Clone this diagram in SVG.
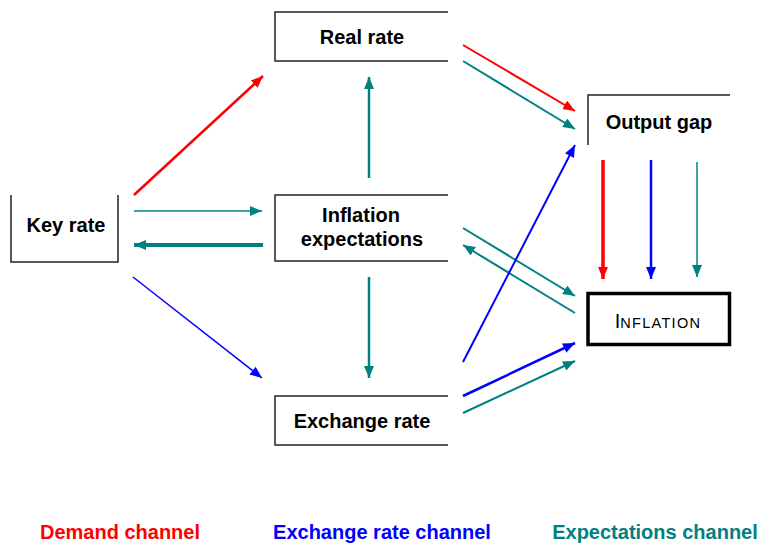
<svg xmlns="http://www.w3.org/2000/svg" width="764" height="544" viewBox="0 0 764 544">
<style>
.box{fill:none;stroke:#222;stroke-width:1.5}
.lbl{font-family:"Liberation Sans",Arial,sans-serif;font-size:20px;font-weight:bold;fill:#000;text-anchor:middle}
.leg{font-family:"Liberation Sans",Arial,sans-serif;font-size:20px;font-weight:bold;text-anchor:middle}
.r{stroke:#ff0000;fill:none}
.b{stroke:#0000ff;fill:none}
.t{stroke:#008080;fill:none}
</style>
<defs>
<marker id="mr" markerUnits="userSpaceOnUse" markerWidth="12" markerHeight="10" refX="12" refY="5" orient="auto"><path d="M0,0 L12,5 L0,10 z" fill="#ff0000"/></marker>
<marker id="mb" markerUnits="userSpaceOnUse" markerWidth="12" markerHeight="10" refX="12" refY="5" orient="auto"><path d="M0,0 L12,5 L0,10 z" fill="#0000ff"/></marker>
<marker id="mt" markerUnits="userSpaceOnUse" markerWidth="12" markerHeight="10" refX="12" refY="5" orient="auto"><path d="M0,0 L12,5 L0,10 z" fill="#008080"/></marker>
</defs>
<rect width="764" height="544" fill="#fff"/>
<g id="key-rate">
<path class="box" d="M11,195 V262 H118 V195"/>
<text class="lbl" x="66" y="232">Key rate</text>
</g>
<g id="real-rate">
<path class="box" d="M448,12 H275 V61 H448"/>
<text class="lbl" x="362" y="44">Real rate</text>
</g>
<g id="inflation-expectations">
<path class="box" d="M448,195 H275 V261 H448"/>
<text class="lbl" x="361" y="222">Inflation</text>
<text class="lbl" x="362" y="246">expectations</text>
</g>
<g id="exchange-rate">
<path class="box" d="M448,396 H275 V445 H448"/>
<text class="lbl" x="362" y="428">Exchange rate</text>
</g>
<g id="output-gap">
<path class="box" d="M588,145 V95 H730"/>
<text class="lbl" x="659" y="129">Output gap</text>
</g>
<g id="inflation">
<rect x="588" y="293.5" width="141.5" height="51" fill="none" stroke="#000" stroke-width="3.5"/>
<text x="658" y="328" font-family="'Liberation Sans',Arial,sans-serif" text-anchor="middle" fill="#000"><tspan font-size="20">I</tspan><tspan font-size="14.5" letter-spacing="1.3">NFLATION</tspan></text>
</g>
<g id="connectors">
<line class="r" x1="134" y1="195" x2="263" y2="76" stroke-width="2.5" marker-end="url(#mr)"/>
<line class="t" x1="134" y1="211" x2="262" y2="211" stroke-width="1.5" marker-end="url(#mt)"/>
<line class="t" x1="263" y1="245" x2="134" y2="245" stroke-width="4" marker-end="url(#mt)"/>
<line class="t" x1="369" y1="178" x2="369" y2="77" stroke-width="2.5" marker-end="url(#mt)"/>
<line class="b" x1="133" y1="277" x2="262" y2="378" stroke-width="1.5" marker-end="url(#mb)"/>
<line class="t" x1="369" y1="277" x2="369" y2="378" stroke-width="2.5" marker-end="url(#mt)"/>
<line class="r" x1="463" y1="45" x2="575" y2="111" stroke-width="2" marker-end="url(#mr)"/>
<line class="t" x1="463" y1="61" x2="575" y2="129" stroke-width="2" marker-end="url(#mt)"/>
<line class="t" x1="463" y1="228" x2="575" y2="296" stroke-width="2" marker-end="url(#mt)"/>
<line class="t" x1="575" y1="313" x2="463" y2="245" stroke-width="2" marker-end="url(#mt)"/>
<line class="b" x1="463" y1="362" x2="575" y2="145" stroke-width="2" marker-end="url(#mb)"/>
<line class="b" x1="463" y1="396" x2="575" y2="343" stroke-width="2.5" marker-end="url(#mb)"/>
<line class="t" x1="463" y1="413" x2="575" y2="361" stroke-width="2" marker-end="url(#mt)"/>
<line class="r" x1="603" y1="160" x2="603" y2="279" stroke-width="3.5" marker-end="url(#mr)"/>
<line class="b" x1="651" y1="160" x2="651" y2="279" stroke-width="2.5" marker-end="url(#mb)"/>
<line class="t" x1="697" y1="162" x2="697" y2="277" stroke-width="1.5" marker-end="url(#mt)"/>
</g>
<g id="legend">
<text class="leg" x="120" y="539" fill="#ff0000">Demand channel</text>
<text class="leg" x="382" y="539" fill="#0000ff">Exchange rate channel</text>
<text class="leg" x="655" y="539" fill="#008080">Expectations channel</text>
</g>
</svg>
